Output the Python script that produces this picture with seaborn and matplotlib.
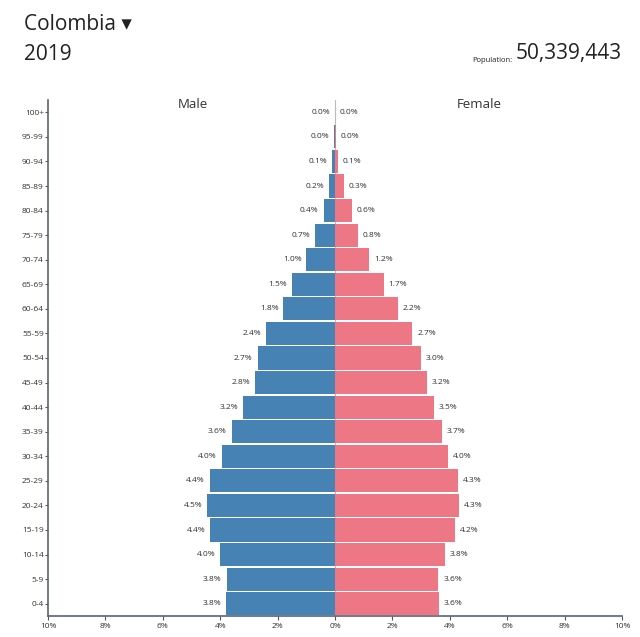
import matplotlib
matplotlib.use("Agg")
import matplotlib.pyplot as plt
import seaborn as sns
import numpy as np
import pandas as pd

ages = ["100+", "95-99", "90-94", "85-89", "80-84", "75-79", "70-74", "65-69",
        "60-64", "55-59", "50-54", "45-49", "40-44", "35-39", "30-34", "25-29",
        "20-24", "15-19", "10-14", "5-9", "0-4"]
male = [0.0, 0.02, 0.1, 0.2, 0.4, 0.7, 1.0, 1.5, 1.8, 2.4, 2.7, 2.8, 3.2, 3.6,
        3.95, 4.37, 4.46, 4.35, 4.0, 3.78, 3.79]
female = [0.0, 0.02, 0.1, 0.3, 0.6, 0.8, 1.2, 1.7, 2.2, 2.7, 3.0, 3.2, 3.44, 3.72,
          3.94, 4.28, 4.31, 4.18, 3.83, 3.6, 3.62]
male_labels = ["0.0%", "0.0%", "0.1%", "0.2%", "0.4%", "0.7%", "1.0%", "1.5%", "1.8%",
               "2.4%", "2.7%", "2.8%", "3.2%", "3.6%", "4.0%", "4.4%", "4.5%", "4.4%",
               "4.0%", "3.8%", "3.8%"]
female_labels = ["0.0%", "0.0%", "0.1%", "0.3%", "0.6%", "0.8%", "1.2%", "1.7%", "2.2%",
                 "2.7%", "3.0%", "3.2%", "3.5%", "3.7%", "4.0%", "4.3%", "4.3%", "4.2%",
                 "3.8%", "3.6%", "3.6%"]
xticks = [-10, -8, -6, -4, -2, 0, 2, 4, 6, 8, 10]

sns.set_style("white")
plt.rcParams["font.family"] = ["Open Sans", "DejaVu Sans"]

MALE_C = "#4682B4"
FEMALE_C = "#EE7785"
TXT = "#333333"

fig = plt.figure(figsize=(6.4, 6.37), dpi=100)
ax = fig.add_axes([48 / 640, 1 - 616 / 637, (622 - 48) / 640, (616 - 100) / 637])

df = pd.DataFrame({"age": ages, "male": [-m for m in male], "female": female})
ax.axvline(0, color="#bbbbbb", lw=0.8, zorder=0)
sns.barplot(data=df, x="male", y="age", order=ages, color=MALE_C, orient="h",
            width=0.94, saturation=1, ax=ax, linewidth=0)
sns.barplot(data=df, x="female", y="age", order=ages, color=FEMALE_C, orient="h",
            width=0.94, saturation=1, ax=ax, linewidth=0)

for i, (m, f, ml, fl) in enumerate(zip(male, female, male_labels, female_labels)):
    ax.annotate(ml, (-m, i), xytext=(-3.5, 0), textcoords="offset points",
                ha="right", va="center", fontsize=6, color=TXT)
    ax.annotate(fl, (f, i), xytext=(3.5, 0), textcoords="offset points",
                ha="left", va="center", fontsize=6, color=TXT)

ax.set_xlim(-10, 10)
ax.set_ylim(len(ages) - 0.5, -0.5)
ax.set_xticks(xticks)
ax.set_xticklabels([f"{abs(t)}%" for t in xticks], fontsize=6, color=TXT)
ax.tick_params(axis="x", length=3, width=0.8, color="#555555", pad=2, direction="out", bottom=True)
ax.tick_params(axis="y", length=2, width=0.8, color="#555555", pad=1, direction="out", left=True,
               labelsize=6, labelcolor=TXT)
ax.set_xlabel("")
ax.set_ylabel("")
for s in ["top", "right"]:
    ax.spines[s].set_visible(False)
for s in ["left", "bottom"]:
    ax.spines[s].set_color("#5a6275")
    ax.spines[s].set_linewidth(1.2)

fig.text(193 / 640, 1 - 105 / 637, "Male", ha="center", va="center",
         fontsize=9.5, color=TXT)
fig.text(479 / 640, 1 - 105 / 637, "Female", ha="center", va="center",
         fontsize=9.5, color=TXT)

fig.text(24 / 640, 1 - 25 / 637, "Colombia \u25BE", ha="left", va="center",
         fontsize=15, color="#222222")
fig.text(24 / 640, 1 - 54 / 637, "2019", ha="left", va="center",
         fontsize=15, color="#222222")
fig.text(622 / 640, 1 - 54 / 637, "50,339,443", ha="right", va="center",
         fontsize=15, color="#222222")
fig.text(512 / 640, 1 - 60 / 637, "Population:", ha="right", va="center",
         fontsize=5.5, color="#222222")

fig.savefig("out.png", dpi=100, facecolor="white")
